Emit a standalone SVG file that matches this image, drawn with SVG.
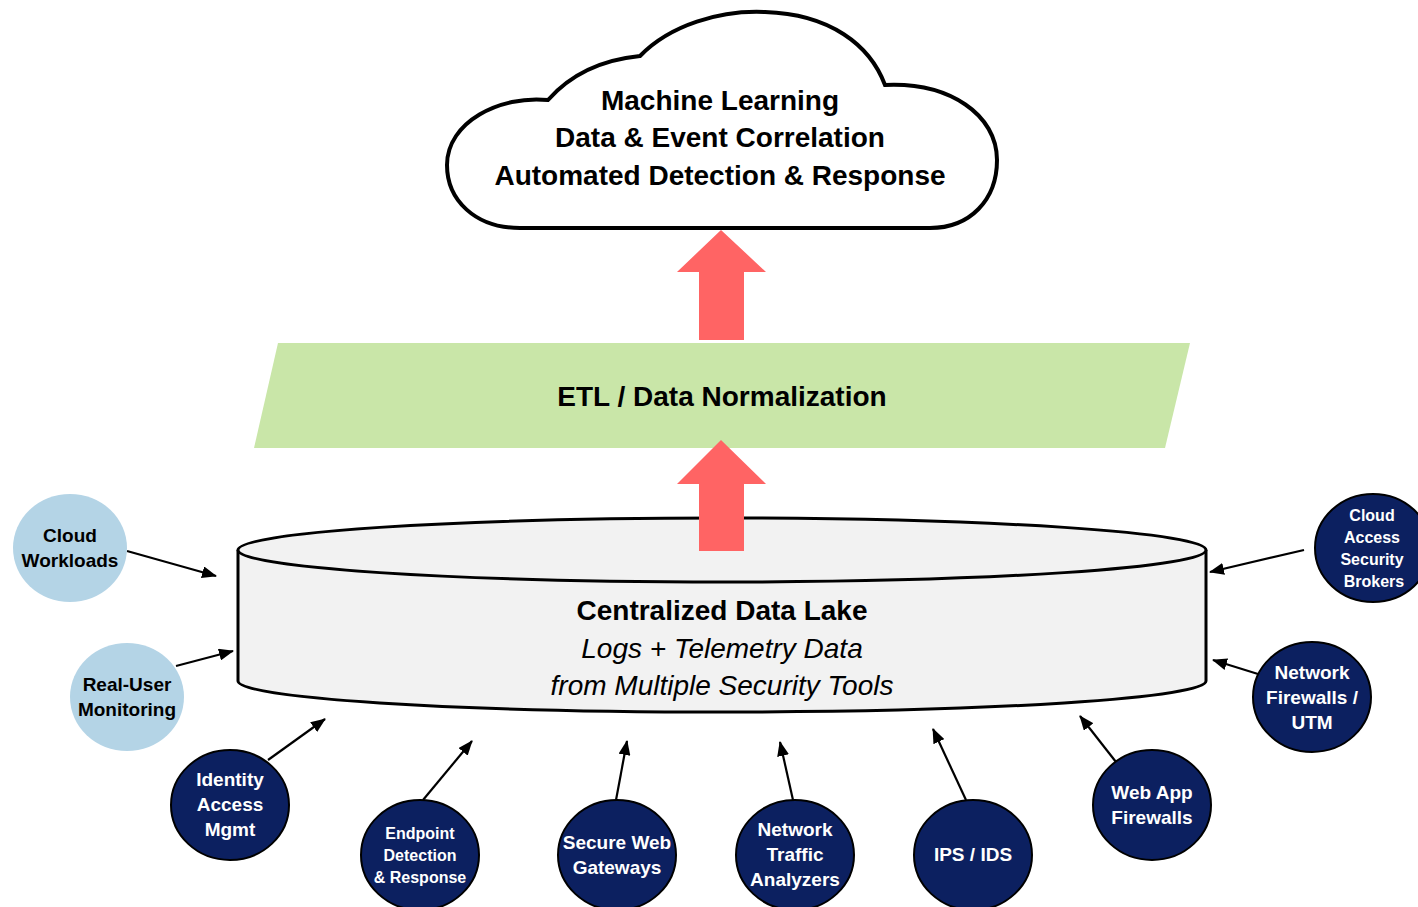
<svg xmlns="http://www.w3.org/2000/svg" width="1418" height="907" viewBox="0 0 1418 907">
<style>
text{font-family:"Liberation Sans",Arial,sans-serif;text-anchor:middle}
.big{font-size:28px;font-weight:bold;fill:#000}
.ital{font-size:28px;font-style:italic;fill:#000}
.lt{fill:#b4d4e6}
.dk{fill:#0c2060;stroke:#000;stroke-width:2}
.lbl{font-size:19px;font-weight:bold;fill:#000}
.wl{font-size:19px;font-weight:bold;fill:#fff}
.ws{font-size:16px;font-weight:bold;fill:#fff}
.conn line{stroke:#000;stroke-width:2.2;marker-end:url(#ah)}
.red{fill:#ff6464}
</style>
<defs>
<marker id="ah" markerWidth="15" markerHeight="12" refX="14" refY="6" orient="auto" markerUnits="userSpaceOnUse"><path d="M0,0 L15,6 L0,12 Z" fill="#000"/></marker>
</defs>
<rect width="1418" height="907" fill="#fff"/>

<g id="cloud">
<path d="M548,100 C570,75 600,60 640,56 C670,25 720,10 765,12 C830,14 870,45 885,85 C950,82 997,115 997,160 C997,200 970,228 930,228 L520,228 C475,228 447,200 447,165 C447,122 500,95 548,100 Z" fill="#fff" stroke="#000" stroke-width="4"/>
<text class="big" x="720" y="110">Machine Learning</text>
<text class="big" x="720" y="147">Data &amp; Event Correlation</text>
<text class="big" x="720" y="185">Automated Detection &amp; Response</text>
</g>

<g id="etl">
<polygon points="278,343 1190,343 1165,448 254,448" fill="#c9e6a8"/>
<text class="big" x="722" y="406">ETL / Data Normalization</text>
</g>

<g id="datalake">
<path d="M238,550 L238,681 A484,31 0 0 0 1206,681 L1206,550" fill="#f2f2f2" stroke="#000" stroke-width="3"/>
<ellipse cx="722" cy="550" rx="484" ry="32" fill="#f2f2f2" stroke="#000" stroke-width="3"/>
<text class="big" x="722" y="620">Centralized Data Lake</text>
<text class="ital" x="722" y="658">Logs + Telemetry Data</text>
<text class="ital" x="722" y="695">from Multiple Security Tools</text>
</g>

<g id="arrow-up-1">
<polygon class="red" points="721,230 766,272 744,272 744,340 699,340 699,272 677,272"/>
</g>
<g id="arrow-up-2">
<polygon class="red" points="721,440 766,484 744,484 744,551 699,551 699,484 677,484"/>
</g>

<g class="conn" id="connectors">
<line x1="127" y1="551" x2="216" y2="576"/>
<line x1="176" y1="666" x2="233" y2="651"/>
<line x1="268" y1="760" x2="325" y2="719"/>
<line x1="423" y1="800" x2="472" y2="741"/>
<line x1="616" y1="800" x2="627" y2="741"/>
<line x1="793" y1="800" x2="780" y2="742"/>
<line x1="966" y1="800" x2="933" y2="729"/>
<line x1="1116" y1="762" x2="1080" y2="716"/>
<line x1="1258" y1="674" x2="1213" y2="660"/>
<line x1="1304" y1="550" x2="1210" y2="572"/>
</g>

<g id="cloud-workloads">
<ellipse class="lt" cx="70" cy="548" rx="57" ry="54"/>
<text class="lbl" x="70" y="542">Cloud</text>
<text class="lbl" x="70" y="567">Workloads</text>
</g>
<g id="real-user-monitoring">
<ellipse class="lt" cx="127" cy="697" rx="57" ry="54"/>
<text class="lbl" x="127" y="691">Real-User</text>
<text class="lbl" x="127" y="716">Monitoring</text>
</g>
<g id="identity">
<ellipse class="dk" cx="230" cy="805" rx="59" ry="55"/>
<text class="wl" x="230" y="786">Identity</text>
<text class="wl" x="230" y="811">Access</text>
<text class="wl" x="230" y="836">Mgmt</text>
</g>
<g id="edr">
<ellipse class="dk" cx="420" cy="855" rx="59" ry="55"/>
<text class="ws" x="420" y="839">Endpoint</text>
<text class="ws" x="420" y="861">Detection</text>
<text class="ws" x="420" y="883">&amp; Response</text>
</g>
<g id="swg">
<ellipse class="dk" cx="617" cy="855" rx="59" ry="55"/>
<text class="wl" x="617" y="849">Secure Web</text>
<text class="wl" x="617" y="874">Gateways</text>
</g>
<g id="nta">
<ellipse class="dk" cx="795" cy="855" rx="59" ry="55"/>
<text class="wl" x="795" y="836">Network</text>
<text class="wl" x="795" y="861">Traffic</text>
<text class="wl" x="795" y="886">Analyzers</text>
</g>
<g id="ips">
<ellipse class="dk" cx="973" cy="855" rx="59" ry="55"/>
<text class="wl" x="973" y="861">IPS / IDS</text>
</g>
<g id="waf">
<ellipse class="dk" cx="1152" cy="805" rx="59" ry="55"/>
<text class="wl" x="1152" y="799">Web App</text>
<text class="wl" x="1152" y="824">Firewalls</text>
</g>
<g id="nfw">
<ellipse class="dk" cx="1312" cy="697" rx="59" ry="55"/>
<text class="wl" x="1312" y="679">Network</text>
<text class="wl" x="1312" y="704">Firewalls /</text>
<text class="wl" x="1312" y="729">UTM</text>
</g>
<g id="casb">
<ellipse class="dk" cx="1373" cy="548" rx="58" ry="54"/>
<text class="ws" x="1372" y="521">Cloud</text>
<text class="ws" x="1372" y="543">Access</text>
<text class="ws" x="1372" y="565">Security</text>
<text class="ws" x="1374" y="587">Brokers</text>
</g>
</svg>
